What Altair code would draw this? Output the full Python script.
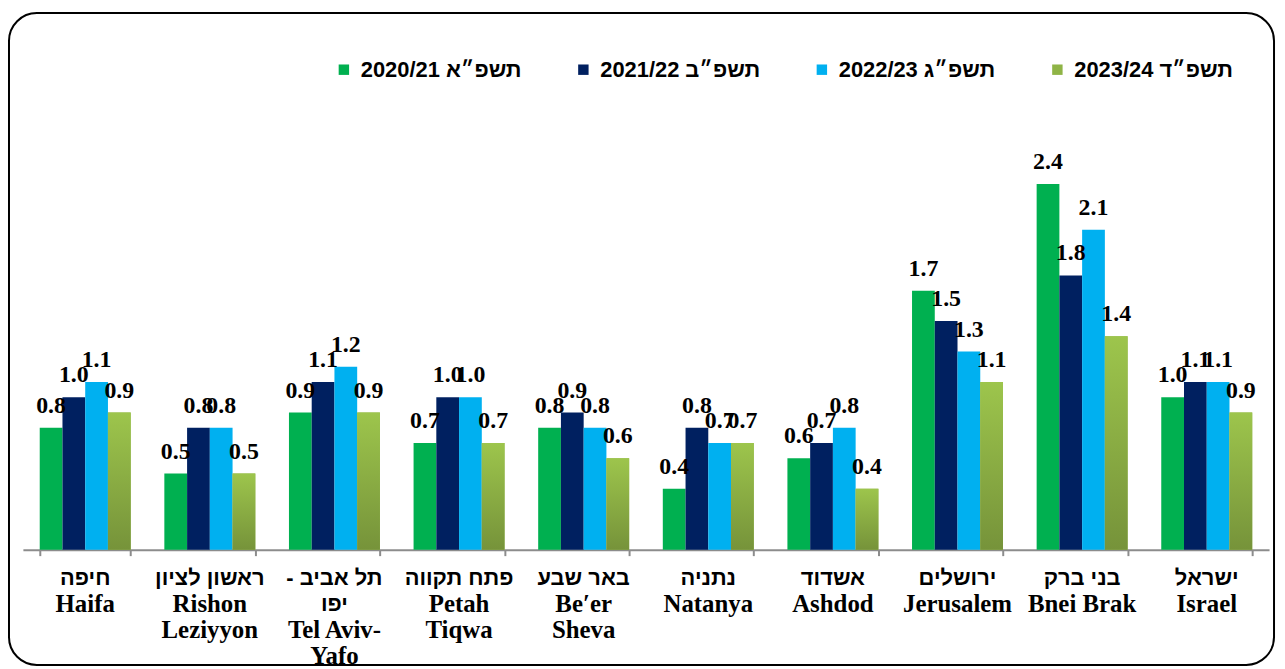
import altair as alt
import pandas as pd

# Categories: key, Hebrew label lines, English label lines
city_keys = ["Haifa", "Rishon", "TelAviv", "Petah", "Beer", "Natanya",
             "Ashdod", "Jerusalem", "BneiBrak", "Israel"]
cities_he = ["חיפה", "ראשון לציון", "- תל אביב\nיפו", "פתח תקווה", "באר שבע",
             "נתניה", "אשדוד", "ירושלים", "בני ברק", "ישראל"]
cities_en = ["Haifa", "Rishon\nLeziyyon", "Tel  Aviv-\nYafo", "Petah\nTiqwa",
             "Be′er\nSheva", "Natanya", "Ashdod", "Jerusalem", "Bnei Brak", "Israel"]
series = ["תשפ״א 2020/21", "תשפ״ב 2021/22", "תשפ״ג 2022/23", "תשפ״ד 2023/24"]
v_2020_21 = [0.8, 0.5, 0.9, 0.7, 0.8, 0.4, 0.6, 1.7, 2.4, 1.0]
v_2021_22 = [1.0, 0.8, 1.1, 1.0, 0.9, 0.8, 0.7, 1.5, 1.8, 1.1]
v_2022_23 = [1.1, 0.8, 1.2, 1.0, 0.8, 0.7, 0.8, 1.3, 2.1, 1.1]
v_2023_24 = [0.9, 0.5, 0.9, 0.7, 0.6, 0.7, 0.4, 1.1, 1.4, 0.9]
colors = ["#00B050", "#002060", "#00B0F0", "#8FB446"]

values = [v_2020_21, v_2021_22, v_2022_23, v_2023_24]
rows = []
for s, vals in zip(series, values):
    for c, v in zip(city_keys, vals):
        rows.append({"city": c, "series": s, "value": v})
df = pd.DataFrame(rows)

lab_df = pd.DataFrame({
    "city": city_keys,
    "he": cities_he,
    "en": cities_en,
    "hel": [h.count("\n") + 1 for h in cities_he],
})

W, H = 1254, 460
LINE = 26
x_enc = alt.X(
    "city:N",
    sort=city_keys,
    scale=alt.Scale(paddingInner=0.27, paddingOuter=0.135),
    axis=alt.Axis(
        title=None,
        labels=False,
        domainColor="#8c8c8c",
        domainWidth=2,
        tickColor="#8c8c8c",
        tickWidth=2,
        tickSize=6,
        tickBand="extent",
        grid=False,
    ),
)
xoff = alt.XOffset("series:N", scale=alt.Scale(domain=series, paddingInner=0, paddingOuter=0))
y_enc = alt.Y("value:Q", scale=alt.Scale(domain=[0, 3.0], nice=False), axis=None)

bars = alt.Chart(df).mark_bar().encode(
    x=x_enc,
    xOffset=xoff,
    y=y_enc,
    color=alt.Color(
        "series:N",
        scale=alt.Scale(domain=series, range=colors),
        legend=alt.Legend(
            orient="none",
            legendX=312,
            legendY=-34,
            direction="horizontal",
            columns=4,
            title=None,
            symbolType="square",
            symbolSize=110,
            symbolStrokeWidth=0,
            labelFont="Liberation Sans",
            labelFontWeight="bold",
            labelFontSize=22,
            labelColor="black",
            labelOffset=6,
            labelLimit=300,
            columnPadding=51,
        ),
    ),
)

grad = alt.Gradient(
    gradient="linear",
    stops=[
        alt.GradientStop(color="#9DC54C", offset=0),
        alt.GradientStop(color="#76933A", offset=1),
    ],
    x1=0, x2=0, y1=0, y2=1,
)
bars4 = alt.Chart(df).transform_filter(
    alt.datum.series == series[3]
).mark_bar(color=grad).encode(x=x_enc, xOffset=xoff, y=y_enc)

labels = alt.Chart(df).mark_text(
    font="Liberation Serif",
    fontWeight="bold",
    fontSize=24,
    baseline="alphabetic",
    dy=-15,
    color="black",
).encode(x=x_enc, xOffset=xoff, y=y_enc, text=alt.Text("value:Q", format=".1f"))

x_lab = alt.X("city:N", sort=city_keys)

he_text = alt.Chart(lab_df).mark_text(
    font="Liberation Sans",
    fontWeight="bold",
    fontSize=22,
    lineHeight=LINE,
    lineBreak="\n",
    baseline="top",
    color="black",
).encode(x=x_lab, y=alt.value(H + 19), text="he:N")

en_style = dict(
    font="Liberation Serif",
    fontWeight="bold",
    fontSize=25,
    lineHeight=LINE,
    lineBreak="\n",
    baseline="top",
    color="black",
)
en_text1 = alt.Chart(lab_df).transform_filter(alt.datum.hel == 1).mark_text(
    **en_style
).encode(x=x_lab, y=alt.value(H + 17 + LINE), text="en:N")
en_text2 = alt.Chart(lab_df).transform_filter(alt.datum.hel == 2).mark_text(
    **en_style
).encode(x=x_lab, y=alt.value(H + 17 + 2 * LINE), text="en:N")

box = alt.Chart(pd.DataFrame({"a": [0]})).mark_rect(
    fill=None, stroke="black", strokeWidth=2, cornerRadius=28
).encode(
    x=alt.value(-14), x2=alt.value(1259), y=alt.value(-80), y2=alt.value(576)
)

chart = alt.layer(box, bars, bars4, labels, he_text, en_text1, en_text2).properties(
    width=W,
    height=H,
    autosize=alt.AutoSizeParams(type="none"),
    padding={"left": 15, "top": 83, "right": 8, "bottom": 118},
).configure_view(stroke=None)

chart.save("out.html", embed_options={"renderer": "svg", "actions": False})
